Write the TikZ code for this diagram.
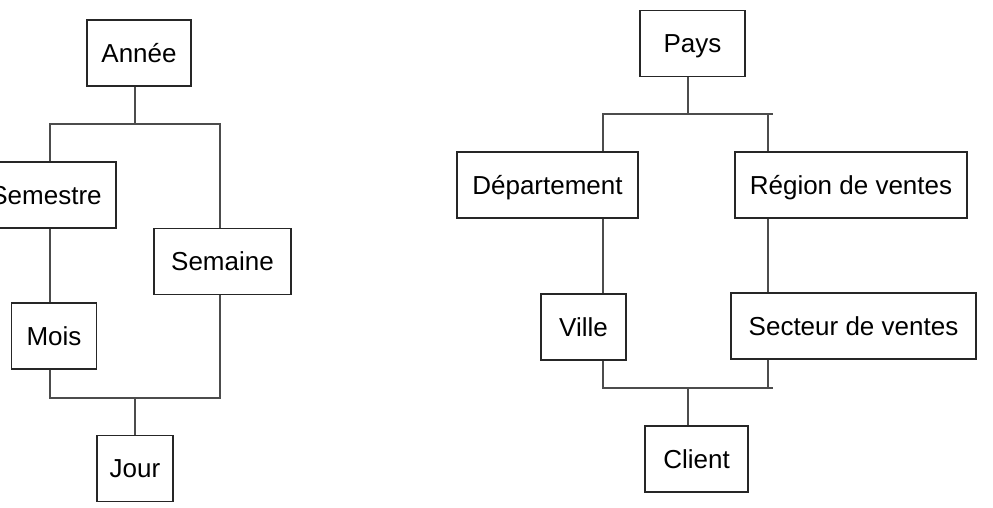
\documentclass[tikz,border=0pt]{standalone}
\usepackage{fontspec}
\setmainfont{Liberation Sans}
\usetikzlibrary{positioning,calc}

\begin{document}
\begin{tikzpicture}[x=1pt,y=-1pt,
  boite/.style={draw=black!85,line width=1.2pt,minimum height=66pt,inner sep=0pt,
    text height=18.7pt,text depth=0pt,font=\fontsize{26pt}{30pt}\selectfont},
  lien/.style={draw=black!70,line width=1.3pt}]
\useasboundingbox (0,0) rectangle (993,507);
\node[boite,minimum width=104pt] (annee) at (139,53) {Année};
\node[boite,minimum width=140pt] (semestre) at (46,195) {Semestre};
\node[boite,minimum width=137pt] (semaine) at (222.5,261.5) {Semaine};
\node[boite,minimum width=85pt] (mois) at (54,336) {Mois};
\node[boite,minimum width=76pt] (jour) at (135,468.5) {Jour};
\node[boite,minimum width=105pt] (pays) at (692.5,43.5) {Pays};
\node[boite,minimum width=181pt] (dept) at (547.5,185) {Département};
\node[boite,minimum width=232pt] (region) at (851,185) {Région de ventes};
\node[boite,minimum width=85pt] (ville) at (583.5,327) {Ville};
\node[boite,minimum width=245pt] (secteur) at (853.5,326) {Secteur de ventes};
\node[boite,minimum width=103pt] (client) at (696.5,459) {Client};
\coordinate (G1) at (50,124);
\coordinate (M1) at (135,124);
\coordinate (D1) at (220,124);
\coordinate (G2) at (50,398);
\coordinate (M2) at (135,398);
\coordinate (D2) at (220,398);
\coordinate (G3) at (603,114);
\coordinate (M3) at (688,114);
\coordinate (D3) at (768,114);
\coordinate (E3) at (773,114);
\coordinate (G4) at (603,388);
\coordinate (M4) at (688,388);
\coordinate (D4) at (768,388);
\coordinate (E4) at (773,388);
\draw[lien] (M1 |- annee.south) -- (M1);
\draw[lien] (G1 |- semestre.north) -- (G1) -- (D1) -- (D1 |- semaine.north);
\draw[lien] (G1 |- semestre.south) -- (G1 |- mois.north);
\draw[lien] (G1 |- mois.south) -- (G2) -- (D2) -- (D1 |- semaine.south);
\draw[lien] (M2) -- (M2 |- jour.north);
\draw[lien] (M3 |- pays.south) -- (M3);
\draw[lien] (G3 |- dept.north) -- (G3) -- (E3);
\draw[lien] (D3) -- (D3 |- region.north);
\draw[lien] (G3 |- dept.south) -- (G3 |- ville.north);
\draw[lien] (D3 |- region.south) -- (D3 |- secteur.north);
\draw[lien] (G3 |- ville.south) -- (G4) -- (E4);
\draw[lien] (D3 |- secteur.south) -- (D4);
\draw[lien] (M4) -- (M4 |- client.north);
\end{tikzpicture}
\end{document}
